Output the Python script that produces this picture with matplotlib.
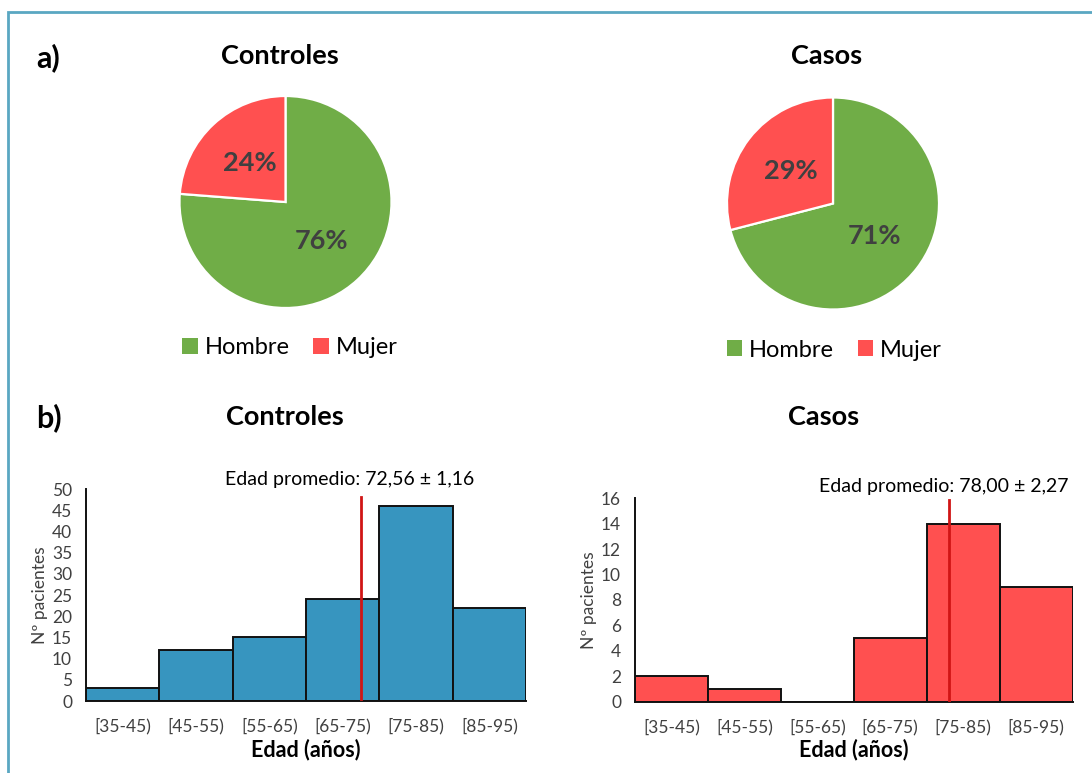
import matplotlib
matplotlib.use("Agg")
import matplotlib.pyplot as plt
from matplotlib.patches import Patch, Rectangle
import numpy as np

plt.rcParams['font.family'] = ['Lato', 'DejaVu Sans']

# --- data ---
sexes = ["Hombre", "Mujer"]
sex_controles = [93, 29]
sex_casos = [22, 9]

age_bins = ["[35-45)", "[45-55)", "[55-65)", "[65-75)", "[75-85)", "[85-95)"]
age_edges = [35, 45, 55, 65, 75, 85, 95]
hist_controles = [3, 12, 15, 24, 46, 22]
hist_casos = [2, 1, 0, 5, 14, 9]

mean_controles, sd_controles = 72.56, 1.16
mean_casos, sd_casos = 78.00, 2.27

GREEN = "#70AD47"
RED = "#FF5050"
BLUE = "#3795BF"
LINE_RED = "#D01515"
TXT = "#404040"

W, H = 1092, 773
fig = plt.figure(figsize=(W / 100, H / 100), dpi=100)


def px_axes(x0, y0, x1, y1):
    """Axes from pixel box (top-left origin)."""
    return fig.add_axes([x0 / W, 1 - y1 / H, (x1 - x0) / W, (y1 - y0) / H])


def fmt(v):
    return f"{v:.2f}".replace(".", ",")


# outer frame
fig.add_artist(Rectangle((8 / W, -0.1), 1.2, (H - 12) / H + 0.1,
                         transform=fig.transFigure, fill=False,
                         edgecolor="#5AA7C2", lw=2))

# --- pies ---
def draw_pie(cx, cy, r, counts, title, legend_x, legend_y):
    ax = px_axes(cx - r, cy - r, cx + r, cy + r)
    ax.pie(counts, colors=[GREEN, RED], startangle=90, counterclock=False,
           autopct=lambda p: f"{p:.0f}%", pctdistance=0.5,
           wedgeprops=dict(edgecolor="white", linewidth=1.6),
           textprops=dict(fontsize=19.5, fontweight="bold", color=TXT))
    ax.set_xlim(-1, 1)
    ax.set_ylim(-1, 1)
    ax.set_aspect("equal")
    fig.text((cx - 6) / W, 1 - 56 / H, title, ha="center", va="center",
             fontsize=19.5, fontweight="bold", color="black")
    handles = [Patch(facecolor=GREEN, edgecolor="none"),
               Patch(facecolor=RED, edgecolor="none")]
    fig.legend(handles, sexes, loc="center", ncol=2, frameon=False,
               bbox_to_anchor=(legend_x / W, 1 - legend_y / H),
               fontsize=17, handlelength=0.65, handleheight=0.65,
               handletextpad=0.3, columnspacing=1.0, labelcolor="black")


draw_pie(285.5, 202, 106, sex_controles, "Controles", 290, 348)
draw_pie(833, 203.5, 106, sex_casos, "Casos", 834.5, 350)

fig.text(36 / W, 1 - 58 / H, "a)", ha="left", va="center", fontsize=22,
         fontweight="bold")
fig.text(36 / W, 1 - 418 / H, "b)", ha="left", va="center", fontsize=22,
         fontweight="bold")


# --- histograms ---
def draw_hist(box, values, color, ymax, ystep, mean, sd, line_top, title,
              title_x, note_xy):
    ax = px_axes(*box)
    ax.bar(age_edges[:-1], values, width=10, align="edge", color=color,
           edgecolor="#111111", linewidth=1.4, zorder=2)
    ax.set_xlim(age_edges[0], age_edges[-1])
    ax.set_ylim(0, ymax)
    centers = [(a + b) / 2 for a, b in zip(age_edges[:-1], age_edges[1:])]
    ax.set_xticks(centers)
    ax.set_xticklabels(age_bins)
    ax.set_yticks(np.arange(0, ymax + 0.1, ystep))
    ax.tick_params(axis="both", length=0, labelsize=12.5, labelcolor=TXT)
    ax.tick_params(axis="x", pad=12)
    ax.tick_params(axis="y", pad=10)
    for s in ("top", "right"):
        ax.spines[s].set_visible(False)
    for s in ("left", "bottom"):
        ax.spines[s].set_color("#111111")
        ax.spines[s].set_linewidth(1.4)
    ax.plot([mean, mean], [0.01 * ymax, line_top], color=LINE_RED, lw=2,
            zorder=3)
    ax.set_ylabel("Nº pacientes", fontsize=12.5, color=TXT, labelpad=3)
    ax.set_xlabel("Edad (años)", fontsize=15.5, fontweight="bold",
                  color="black", labelpad=3)
    fig.text(title_x / W, 1 - 417 / H, title, ha="center", va="center",
             fontsize=19.5, fontweight="bold")
    fig.text(note_xy[0] / W, 1 - note_xy[1] / H,
             f"Edad promedio: {fmt(mean)} ± {fmt(sd)}", ha="center",
             va="center", fontsize=14, color="black")
    return ax


draw_hist((86, 489, 526, 701), hist_controles, BLUE, 50, 5,
          mean_controles, sd_controles, 48.1, "Controles", 285, (350, 480))
draw_hist((635, 498.3, 1072.5, 701.7), hist_casos, RED, 16, 2,
          mean_casos, sd_casos, 15.9, "Casos", 824, (944, 487))

fig.savefig("out.png", dpi=100)
